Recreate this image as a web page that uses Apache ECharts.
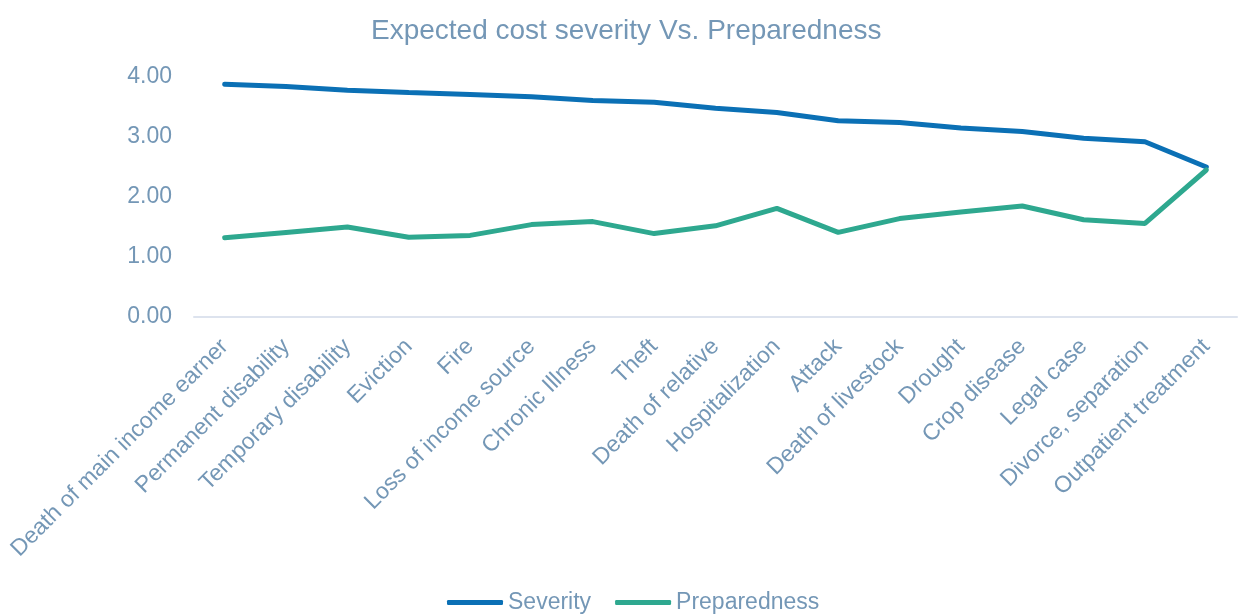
<!DOCTYPE html>
<html>
<head>
<meta charset="utf-8">
<script src="https://cdn.jsdelivr.net/npm/echarts@6/dist/echarts.min.js"></script>
<style>html,body{margin:0;padding:0;background:#fff;}#c{width:1239px;height:615px;}</style>
</head>
<body>
<div id="c"></div>
<script>
const categories = ["Death of main income earner","Permanent disability","Temporary disability","Eviction","Fire","Loss of income source","Chronic Illness","Theft","Death of relative","Hospitalization","Attack","Death of livestock","Drought","Crop disease","Legal case","Divorce, separation","Outpatient treatment"];
const severity = [3.88,3.84,3.78,3.74,3.71,3.67,3.61,3.58,3.48,3.41,3.27,3.24,3.15,3.09,2.98,2.92,2.50];
const preparedness = [1.32,1.41,1.50,1.33,1.36,1.54,1.59,1.39,1.52,1.81,1.41,1.64,1.75,1.85,1.62,1.56,2.45];
const yTicks = [0,1,2,3,4];

const txt = '#7497b6';
const font = '"Liberation Sans", Arial, sans-serif';
const chart = echarts.init(document.getElementById('c'));
chart.setOption({
  animation:false,
  title:{text:'Expected cost severity Vs. Preparedness',left:366,top:12,
    textStyle:{color:txt,fontSize:28,fontWeight:'normal',fontFamily:font}},
  legend:{bottom:-4,left:442,itemWidth:56,itemHeight:5,itemGap:24,icon:'roundRect',
    textStyle:{color:txt,fontSize:23,fontWeight:'normal',fontFamily:font},
    data:['Severity','Preparedness']},
  grid:{left:194,right:2,top:77,bottom:298,containLabel:false},
  xAxis:{type:'category',data:categories,boundaryGap:true,
    axisLine:{lineStyle:{color:'#dde3ee',width:2}},axisTick:{show:false},
    axisLabel:{rotate:45,color:txt,fontSize:23,fontWeight:'normal',fontFamily:font,margin:26,interval:0}},
  yAxis:{type:'value',min:yTicks[0],max:yTicks[yTicks.length-1],interval:1,
    splitLine:{show:false},axisLine:{show:false},axisTick:{show:false},
    axisLabel:{color:txt,fontSize:23,fontWeight:'normal',fontFamily:font,margin:22,formatter:v=>v.toFixed(2)}},
  series:[
    {name:'Severity',type:'line',data:severity,symbol:'none',lineStyle:{color:'#0b70b5',width:5,cap:'round'},itemStyle:{color:'#0b70b5'}},
    {name:'Preparedness',type:'line',data:preparedness,symbol:'none',lineStyle:{color:'#2ea88f',width:5,cap:'round'},itemStyle:{color:'#2ea88f'}}
  ]
});
</script>
</body>
</html>
